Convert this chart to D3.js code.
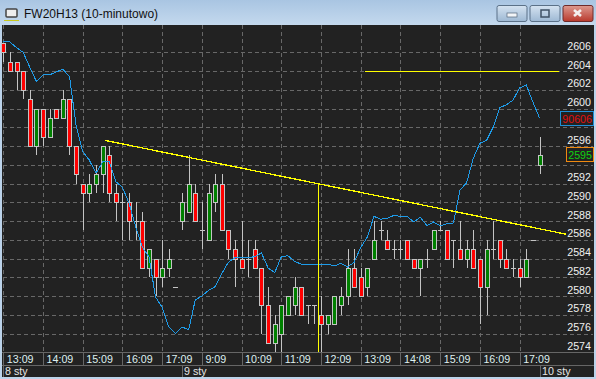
<!DOCTYPE html>
<html>
<head>
<meta charset="utf-8">
<script src="https://cdnjs.cloudflare.com/ajax/libs/d3/7.8.5/d3.min.js"></script>
<style>
  html, body { margin: 0; padding: 0; background: #222; overflow: hidden; }
  svg { display: block; }
  text { font-family: "Liberation Sans", sans-serif; }
</style>
</head>
<body>
<div id="chart"></div>
<script>
// candles, one row per 10 minute bar
const opens = [2607,2605,2605,2604,2601,2596,2600,2597,2600,2599,2601,2596,2592,2591,2592,2593,2595,2591,2590,2590,2588,2588,2583,2584,2582,2583,2581,2588,2589,2591,2587,2586,2590,2592,2587,2585,2584,2584,2585,2583,2579,2575,2576,2578,2579,2581,2579,2579,2578,2577,2577,2579,2580,2583,2582,2581,2584,2587,2586,2585,2585,2586,2584,2583,2584,2585,2587,2587,2586,2585,2584,2585,2584,2581,2585,2586,2584,2583,2583,2582,2586,2594];
const highs = [2607,2606,2605,2604,2602,2600,2600,2600,2600,2602,2601,2596,2592,2593,2594,2596,2596,2592,2591,2591,2590,2589,2585,2584,2586,2585,2581,2591,2595,2592,2590,2592,2593,2593,2587,2586,2588,2586,2586,2583,2581,2578,2579,2580,2582,2581,2579,2579,2580,2578,2580,2581,2585,2585,2583,2583,2588,2588,2587,2586,2586,2586,2584,2584,2585,2587,2588,2587,2586,2588,2586,2587,2584,2586,2588,2586,2585,2584,2584,2585,2586,2597];
const lows = [2605,2604,2602,2601,2596,2595,2596,2597,2599,2599,2595,2592,2587,2590,2591,2591,2590,2588,2586,2586,2586,2583,2582,2580,2581,2582,2581,2587,2589,2588,2585,2586,2589,2587,2584,2581,2583,2582,2583,2576,2575,2574,2574,2578,2578,2578,2577,2577,2574,2576,2577,2578,2579,2581,2580,2580,2584,2586,2585,2584,2584,2584,2583,2580,2583,2585,2587,2584,2583,2584,2583,2583,2577,2578,2584,2583,2583,2582,2581,2582,2586,2593];
const closes = [2606,2604,2604,2602,2596,2600,2597,2599,2599,2601,2596,2593,2591,2592,2593,2596,2591,2590,2590,2588,2588,2583,2585,2582,2583,2584,2581,2590,2592,2588,2587,2591,2592,2587,2585,2584,2583,2584,2583,2579,2575,2577,2579,2580,2581,2578,2579,2579,2577,2578,2580,2580,2583,2581,2580,2583,2586,2587,2585,2585,2585,2584,2583,2584,2584,2587,2587,2584,2586,2584,2585,2583,2581,2585,2585,2584,2583,2583,2582,2584,2586,2595];

// blue indicator, in price axis units
const indicator = [2607.1,2607.1,2606.5,2606.0,2604.4,2602.9,2603.6,2603.6,2603.9,2604.2,2603.4,2598.2,2595.4,2594.5,2593.1,2594.3,2594.3,2592.2,2591.6,2589.9,2587.4,2585.2,2584.2,2579.9,2578.8,2576.7,2576.0,2576.7,2576.4,2579.6,2580.0,2580.6,2581.0,2582.4,2583.6,2584.1,2584.1,2584.1,2584.2,2584.6,2583.0,2582.5,2584.2,2584.3,2583.7,2583.4,2583.4,2583.4,2583.4,2583.4,2583.2,2583.5,2583.1,2583.6,2585.2,2586.3,2588.5,2588.2,2588.3,2588.6,2588.5,2588.5,2587.9,2588.4,2587.5,2587.9,2587.5,2587.7,2587.8,2591.3,2592.1,2594.7,2596.3,2596.6,2598.0,2600.1,2600.4,2600.9,2602.2,2602.5,2600.7,2599.0];

const priceTicks = d3.range(2574, 2607, 2);
// these two sit behind the last value boxes
const coveredTicks = [2594, 2598];
const timeTickBars = [0,6,12,18,24,30,36,42,48,54,60,66,72,78];
const timeTickLabels = ["13:09","14:09","15:09","16:09","17:09","9:09","10:09","11:09","12:09","13:09","14:08","15:09","16:09","17:09"];
const dayBars = [0,27,81];
const dayLabels = ["8 sty","9 sty","10 sty"];

// drawn lines, [bar, price]
const trendLine = [[15.4,2596.6],[85,2586.6]];
const dropLine = [[47.6,2592],[47.6,2574]];
const levelLine = [[54.6,2604],[84,2604]];

const chartTitle = "FW20H13 (10-minutowo)";
const indicatorLabel = "90606";
const priceLabel = "2595";

const width = 596, height = 379;
const plotTop = 25, plotBottom = 352, axisRow = 365, axisBottom = 377;
const labelSize = 10.7;

const x = d3.scaleLinear().domain([0, 81]).range([3.3, 539.5]);
const y = d3.scaleLinear().domain([2574, 2606]).range([352.3, 52.3]);

const svg = d3.select("#chart").append("svg")
    .attr("width", width)
    .attr("height", height);

const defs = svg.append("defs");
const titleGrad = defs.append("linearGradient").attr("id", "titleGrad").attr("x2", 0).attr("y2", 1);
titleGrad.append("stop").attr("offset", 0).attr("stop-color", "#a9c5e2");
titleGrad.append("stop").attr("offset", 1).attr("stop-color", "#c4d9ee");
const btnGrad = defs.append("linearGradient").attr("id", "btnGrad").attr("x2", 0).attr("y2", 1);
btnGrad.append("stop").attr("offset", 0).attr("stop-color", "#d5e3f1");
btnGrad.append("stop").attr("offset", 1).attr("stop-color", "#9db8d3");
const closeGrad = defs.append("linearGradient").attr("id", "closeGrad").attr("x2", 0).attr("y2", 1);
closeGrad.append("stop").attr("offset", 0).attr("stop-color", "#dd9a90");
closeGrad.append("stop").attr("offset", 1).attr("stop-color", "#b9392c");

// window frame
svg.append("rect").attr("width", width).attr("height", height).attr("fill", "#bcd3ea");
svg.append("rect").attr("width", width).attr("height", plotTop).attr("fill", "url(#titleGrad)");
svg.append("rect").attr("x", 2).attr("y", plotTop).attr("width", width - 4).attr("height", axisBottom - plotTop).attr("fill", "#222");

// title bar
const icon = svg.append("g");
icon.append("rect").attr("x", 6).attr("y", 9).attr("width", 11).attr("height", 8).attr("rx", 1).attr("fill", "#eee").attr("stroke", "#444").attr("stroke-width", 1.5);
icon.append("rect").attr("x", 4).attr("y", 20).attr("width", 15).attr("height", 1).attr("fill", "#c8c81e");
svg.append("text").attr("x", 24).attr("y", 18).attr("font-size", 12).attr("fill", "#111").text(chartTitle);

const buttons = [[497, "btnGrad"], [530, "btnGrad"], [563, "closeGrad"]];
svg.selectAll("rect.btn").data(buttons).enter().append("rect")
    .attr("class", "btn")
    .attr("x", d => d[0])
    .attr("y", 5.5)
    .attr("width", 30)
    .attr("height", 16)
    .attr("rx", 2)
    .attr("fill", d => "url(#" + d[1] + ")")
    .attr("stroke", (d, i) => i === 2 ? "#6e2a2a" : "#5b7188");
svg.append("rect").attr("x", 507).attr("y", 13).attr("width", 10).attr("height", 4).attr("fill", "#f2f5f8").attr("stroke", "#55667a").attr("stroke-width", 0.7);
svg.append("rect").attr("x", 541).attr("y", 10).attr("width", 8).attr("height", 7).attr("fill", "none").attr("stroke", "#3f5064").attr("stroke-width", 1.5);
svg.append("path").attr("d", "M574 10l7 6M581 10l-7 6").attr("stroke", "#f4f0ee").attr("stroke-width", 2.6);

// grid, the axes own the tick lines
const yAxis = d3.axisRight(y)
    .tickValues(priceTicks)
    .tickSize(width - 6)
    .tickFormat(d => coveredTicks.includes(d) ? "" : d3.format("d")(d));

const yAxisG = svg.append("g")
    .attr("transform", "translate(3,0)")
    .call(yAxis);
yAxisG.select(".domain").remove();
yAxisG.selectAll("line")
    .attr("stroke", "#686868")
    .attr("stroke-dasharray", "4,3")
    .attr("shape-rendering", "crispEdges");
yAxisG.selectAll("text")
    .attr("x", width - 6 - 2)
    .attr("dy", -3)
    .attr("text-anchor", "end")
    .attr("font-size", labelSize)
    .attr("font-family", "Liberation Sans")
    .attr("fill", "#f0f0f0");

const xAxis = d3.axisBottom(x)
    .tickValues(timeTickBars)
    .tickSize(plotBottom - plotTop)
    .tickFormat((d, i) => timeTickLabels[i]);

const xAxisG = svg.append("g")
    .attr("transform", "translate(0," + plotTop + ")")
    .call(xAxis);
xAxisG.select(".domain").remove();
xAxisG.selectAll("line")
    .attr("stroke", "#686868")
    .attr("stroke-dasharray", "4,3")
    .attr("shape-rendering", "crispEdges");
xAxisG.selectAll("text")
    .attr("x", 3)
    .attr("y", axisRow - plotTop - 2)
    .attr("dy", 0)
    .attr("text-anchor", "start")
    .attr("font-size", labelSize)
    .attr("font-family", "Liberation Sans")
    .attr("fill", "#dff0f0");

// bottom rows with their separators
const rows = svg.append("g").attr("shape-rendering", "crispEdges");
rows.append("line").attr("x1", 2).attr("x2", width - 2).attr("y1", plotBottom + 0.5).attr("y2", plotBottom + 0.5).attr("stroke", "#666");
rows.append("line").attr("x1", 2).attr("x2", width - 2).attr("y1", axisRow + 0.5).attr("y2", axisRow + 0.5).attr("stroke", "#666");
rows.selectAll("line.sep").data(timeTickBars).enter().append("line")
    .attr("class", "sep")
    .attr("x1", d => Math.round(x(d)) + 0.5)
    .attr("x2", d => Math.round(x(d)) + 0.5)
    .attr("y1", plotBottom)
    .attr("y2", axisRow)
    .attr("stroke", "#666");
rows.selectAll("line.day").data(dayBars).enter().append("line")
    .attr("class", "day")
    .attr("x1", d => Math.round(x(d)) + 0.5)
    .attr("x2", d => Math.round(x(d)) + 0.5)
    .attr("y1", axisRow)
    .attr("y2", axisBottom)
    .attr("stroke", "#666");
svg.selectAll("text.day").data(dayBars).enter().append("text")
    .attr("class", "day")
    .attr("x", d => Math.round(x(d)) + 2)
    .attr("y", 375)
    .attr("font-size", labelSize)
    .attr("fill", "#e6e6e6")
    .text((d, i) => dayLabels[i]);

// candles
const bars = d3.range(opens.length);
const candleG = svg.append("g").attr("shape-rendering", "crispEdges");

candleG.selectAll("line.wick").data(bars).enter().append("line")
    .attr("class", "wick")
    .attr("x1", d => Math.round(x(d)) + 0.5)
    .attr("x2", d => Math.round(x(d)) + 0.5)
    .attr("y1", d => y(highs[d]))
    .attr("y2", d => y(lows[d]))
    .attr("stroke", "#c4c4c4");

candleG.selectAll("line.doji").data(bars.filter(d => opens[d] === closes[d])).enter().append("line")
    .attr("class", "doji")
    .attr("x1", d => Math.round(x(d)) - 2)
    .attr("x2", d => Math.round(x(d)) + 3)
    .attr("y1", d => Math.round(y(opens[d])) + 0.5)
    .attr("y2", d => Math.round(y(opens[d])) + 0.5)
    .attr("stroke", "#c4c4c4");

candleG.selectAll("rect.body").data(bars.filter(d => opens[d] !== closes[d])).enter().append("rect")
    .attr("class", "body")
    .attr("x", d => Math.round(x(d)) - 1.5)
    .attr("y", d => Math.round(y(Math.max(opens[d], closes[d]))) + 0.5)
    .attr("width", 4)
    .attr("height", d => Math.round(y(Math.min(opens[d], closes[d]))) - Math.round(y(Math.max(opens[d], closes[d]))))
    .attr("fill", d => closes[d] > opens[d] ? "#008000" : "#ff0000")
    .attr("stroke", "#c4c4c4");

// indicator line
const line = d3.line()
    .x((d, i) => x(i))
    .y(d => y(d));

svg.append("path")
    .datum(indicator)
    .attr("d", line)
    .attr("fill", "none")
    .attr("stroke", "#1e9be8")
    .attr("stroke-width", 1)
    .attr("shape-rendering", "crispEdges");

// hand drawn yellow lines
const priceLine = d3.line()
    .x(d => x(d[0]))
    .y(d => y(d[1]));

svg.selectAll("path.drawn").data([trendLine, dropLine, levelLine]).enter().append("path")
    .attr("class", "drawn")
    .attr("d", priceLine)
    .attr("fill", "none")
    .attr("stroke", "#ffff00")
    .attr("stroke-width", d => d === levelLine ? 1 : 1.3)
    .attr("shape-rendering", "crispEdges");

// last value boxes
svg.append("rect").attr("x", 560.5).attr("y", 111.5).attr("width", 33).attr("height", 14)
    .attr("fill", "#222").attr("stroke", "#1e8fd8");
svg.append("text").attr("x", 592).attr("y", 122.5).attr("text-anchor", "end")
    .attr("font-size", labelSize).attr("fill", "#e01010").text(indicatorLabel);
svg.append("rect").attr("x", 566.5).attr("y", 147.5).attr("width", 27).attr("height", 14)
    .attr("fill", "#222").attr("stroke", "#f08a10");
svg.append("text").attr("x", 592).attr("y", 158.5).attr("text-anchor", "end")
    .attr("font-size", labelSize).attr("fill", "#10d010").text(priceLabel);
</script>
</body>
</html>
